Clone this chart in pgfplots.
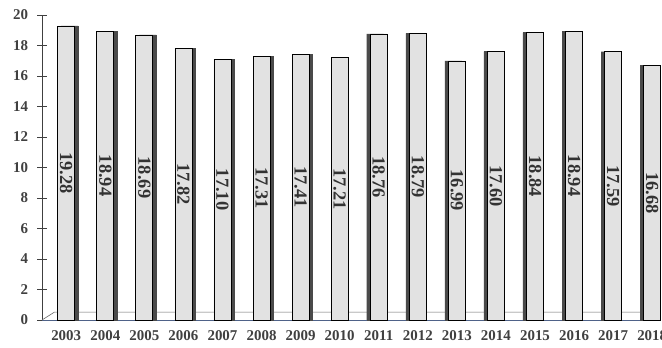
\documentclass[border=0pt]{standalone}
\usepackage{pgfplots}
\usepackage{pgfplotstable}
\pgfplotsset{compat=1.18}
\usepackage{fontspec}
\setmainfont{Liberation Serif}

\definecolor{barface}{HTML}{E2E2E2}
\definecolor{barside}{HTML}{4A4A4A}
\definecolor{axisgray}{HTML}{404040}
\definecolor{labelgray}{HTML}{333333}
\definecolor{floorline}{HTML}{4F6288}
\definecolor{floorback}{HTML}{666666}

\pgfplotstableread{
x year value
0 2003 19.28
1 2004 18.94
2 2005 18.69
3 2006 17.82
4 2007 17.10
5 2008 17.31
6 2009 17.41
7 2010 17.21
8 2011 18.76
9 2012 18.79
10 2013 16.99
11 2014 17.60
12 2015 18.84
13 2016 18.94
14 2017 17.59
15 2018 16.68
}\datatable

\begin{document}
\begin{tikzpicture}
\begin{axis}[
  scale only axis,
  width=618bp, height=305bp,
  xmin=-0.62, xmax=15.2,
  ymin=0, ymax=20,
  axis lines*=left,
  axis line style={draw=axisgray, line width=0.9pt},
  x axis line style={draw=floorline, line width=0.7pt},
  xtick={0,...,15},
  xticklabels={2003,2004,2005,2006,2007,2008,2009,2010,2011,2012,2013,2014,2015,2016,2017,2018},
  xtick style={draw=none},
  ytick={0,2,...,20},
  tick align=center,
  major tick length=9bp,
  ytick style={draw=axisgray, line width=0.9pt},
  /pgf/number format/assume math mode=true,
  ticklabel style={font=\bfseries\fontsize{15}{17}\selectfont, text=axisgray},
  xticklabel style={yshift=-3bp},
  yticklabel style={xshift=-6bp},
  clip=false,
]
% floor of the chart
\draw[floorback, line width=0.6pt] (axis cs:-0.62,0) -- (axis cs:-0.3,0.52) -- (axis cs:15.2,0.52);

% dark side faces, right side for the left half and left side for the right half
\addplot[ybar, bar width=17bp, bar shift=3.5bp, fill=barside, draw=barside,
  restrict x to domain=0:6.5] table[x=x, y=value] {\datatable};
\addplot[ybar, bar width=17bp, bar shift=-3.5bp, fill=barside, draw=barside,
  restrict x to domain=7.5:15.5] table[x=x, y=value] {\datatable};

% front faces with the values written down the middle
\addplot[ybar, bar width=17bp, bar shift=0pt, fill=barface, draw=black, line width=0.8pt,
  visualization depends on={y \as \rawy},
  nodes near coords={\pgfmathprintnumber[fixed, fixed zerofill, precision=2]{\pgfplotspointmeta}},
  every node near coord/.style={yshift={-\rawy*7.625bp}, rotate=-90, anchor=center,
    inner sep=0pt, font=\bfseries\fontsize{18.5}{20}\selectfont, text=labelgray},
] table[x=x, y=value] {\datatable};
\end{axis}
\pgfresetboundingbox
\path (-42bp,-28bp) rectangle (620bp,320bp);
\end{tikzpicture}
\end{document}
